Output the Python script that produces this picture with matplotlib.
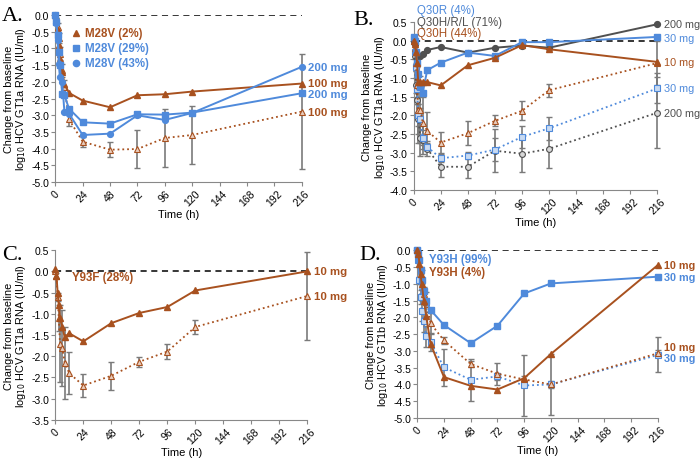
import matplotlib
matplotlib.use("Agg")
import matplotlib.pyplot as plt

plt.rcParams['font.family'] = ['Liberation Sans', 'DejaVu Sans']

BROWN = '#A8511F'
BLUE = '#4F8ADB'
DGREY = '#505050'
EGREY = '#7A7A7A'

# time points (h)
t = [0, 1, 2, 3, 4, 6, 8, 12, 24, 48, 72, 96, 120, 216]

# ---- panel A (GT1a, M28V)
a_m28v_2 = [0, -0.1, -0.45, -0.9, -1.3, -1.7, -2.05, -2.33, -2.56, -2.76, -2.4, -2.37, -2.29, -2.05]
a_m28v_29 = [0, -0.2, -0.6, -1.1, -1.5, -2.35, -2.4, -2.8, -3.21, -3.25, -2.97, -2.98, -2.92, -2.34]
a_m28v_43 = [0, -0.25, -0.75, -1.45, -1.85, -2.0, -2.9, -2.95, -3.59, -3.55, -3.0, -3.14, -2.93, -1.55]
a_100 = [0, -0.1, -0.35, -0.7, -1.15, -1.65, -2.15, -3.12, -3.79, -4.03, -4.01, -3.68, -3.59, -2.89]
a_100_err = [0, 0, 0.1, 0.15, 0.2, 0.2, 0.2, 0.2, 0.15, 0.22, 0.58, 0.86, 0.88, 1.73]

# ---- panel B (GT1a, Q30)
b_q30hrl = [0, -0.1, -0.3, -0.5, -0.45, -0.4, -0.35, -0.25, -0.17, -0.32, -0.19, -0.13, -0.19, 0.44]
b_q30r = [0.1, 0.0, -0.3, -0.6, -0.9, -1.25, -1.39, -0.79, -0.59, -0.32, -0.41, -0.04, -0.04, 0.1]
b_q30h = [0, -0.1, -0.3, -0.6, -1.1, -1.1, -1.1, -1.11, -1.2, -0.66, -0.46, -0.12, -0.23, -0.57]
b_10 = [0, -0.2, -0.6, -1.2, -1.85, -1.85, -2.2, -2.42, -2.73, -2.48, -2.15, -1.88, -1.33, -0.6]
b_10_err = [0, 0.1, 0.2, 0.5, 0.9, 0.9, 0.7, 0.5, 0.28, 0.33, 0.15, 0.25, 0.17, 0.6]
b_30 = [0.05, -0.3, -0.7, -1.3, -2.0, -2.1, -2.6, -2.85, -3.15, -3.08, -2.92, -2.58, -2.35, -1.28]
b_30_err = [0, 0, 0.1, 0.2, 0.3, 0.3, 0.2, 0.1, 0.1, 0.1, 0.3, 0.3, 0.3, 0.4]
b_200 = [0, -0.4, -1.2, -1.6, -2.1, -2.6, -2.65, -2.9, -3.38, -3.38, -2.95, -3.03, -2.9, -1.93]
b_200_err = [0, 0.1, 0.2, 0.3, 0.4, 0.5, 0.4, 0.2, 0.27, 0.3, 0.57, 0.5, 0.5, 0.95]

# ---- panel C (GT1a, Y93F)
c_y93f = [0.05, -0.1, -0.5, -0.8, -1.1, -1.3, -1.55, -1.46, -1.65, -1.22, -0.98, -0.84, -0.45, 0.0]
c_10 = [0, -0.1, -0.6, -1.1, -1.7, -1.8, -2.15, -2.4, -2.69, -2.46, -2.13, -1.89, -1.31, -0.58]
c_10_err = [0, 0.05, 0.1, 0.3, 0.9, 0.9, 0.85, 0.49, 0.27, 0.33, 0.12, 0.17, 0.17, 1.03]

# ---- panel D (GT1b, Y93H)
d_y93h_99 = [0, -0.1, -0.3, -0.6, -0.9, -1.21, -1.52, -1.78, -2.23, -2.77, -2.25, -1.29, -0.99, -0.79]
d_y93h_4 = [0, -0.1, -0.4, -0.7, -1.0, -1.5, -1.95, -2.79, -3.78, -4.04, -4.15, -3.81, -3.09, -0.44]
d_10 = [0, -0.1, -0.3, -0.6, -0.8, -1.3, -1.55, -2.18, -2.69, -3.39, -3.68, -3.85, -4.0, -3.07]
d_10_err = [0, 0, 0.05, 0.1, 0.2, 0.2, 0.3, 0.3, 0.1, 0.1, 0.33, 0.1, 0.1, 0.1]
d_30 = [0, -0.3, -0.9, -1.4, -1.8, -2.1, -2.57, -2.74, -3.49, -3.86, -3.76, -4.03, -4.0, -3.12]
d_30_err = [0, 0, 0.1, 0.2, 0.3, 0.35, 0.3, 0.25, 0.55, 0.63, 0.1, 0.9, 0.9, 0.52]


def solid(ax, y, color, marker):
    ax.plot(t, y, color=color, lw=1.4, marker=marker, ms=4.2, mfc=color, mec=color,
            clip_on=False, zorder=4)


def dotted(ax, y, err, color, marker, face):
    ax.errorbar(t, y, yerr=err, fmt='none', ecolor=EGREY, elinewidth=1.2, capsize=2,
                capthick=1, zorder=2, clip_on=False)
    ax.plot(t, y, color=color, lw=1.3, ls=':', marker=marker, ms=4.2, mfc=face, mec=color,
            mew=0.8, clip_on=False, zorder=3)


def style(ax, ylo, yhi, gt):
    ax.set_xlim(0, 216)
    ax.set_ylim(ylo, yhi)
    ax.set_xticks(range(0, 217, 24))
    n = int(round((yhi - ylo) / 0.5))
    ax.set_yticks([ylo + 0.5 * i for i in range(n + 1)])
    ax.yaxis.set_major_formatter(plt.FuncFormatter(lambda v, p: f'{v:.1f}'))
    for lbl in ax.get_xticklabels():
        lbl.set_rotation(45)
    ax.tick_params(labelsize=7.5, length=3, color='#888888', pad=1.5)
    for s in ('top', 'right'):
        ax.spines[s].set_visible(False)
    for s in ('left', 'bottom'):
        ax.spines[s].set_color('#888888')
    ax.axhline(0, color='black', ls='--', lw=1.1, dashes=(4, 3), zorder=1)
    ax.set_xlabel('Time (h)', fontsize=8, labelpad=1)
    ax.set_ylabel('Change from baseline\nlog$_{10}$ HCV ' + gt + ' RNA (IU/ml)', fontsize=7.8,
                  labelpad=2, linespacing=1.05)


def right_label(ax, y, text, color, bold=True, size=8.2):
    ax.annotate(text, (216, y), xytext=(4.5, 0), textcoords='offset points', va='center',
                ha='left', color=color, fontsize=size, fontweight='bold' if bold else 'normal',
                annotation_clip=False)


fig = plt.figure(figsize=(7, 4.6), dpi=100)

axA = fig.add_axes([0.079, 0.602, 0.352, 0.363])
axB = fig.add_axes([0.591, 0.585, 0.348, 0.365])
axC = fig.add_axes([0.079, 0.085, 0.360, 0.369])
axD = fig.add_axes([0.596, 0.089, 0.344, 0.365])

# A
style(axA, -5.0, 0.0, 'GT1a')
dotted(axA, a_100, a_100_err, BROWN, '^', '#E8CDBE')
solid(axA, a_m28v_2, BROWN, '^')
solid(axA, a_m28v_29, BLUE, 's')
solid(axA, a_m28v_43, BLUE, 'o')
right_label(axA, -1.55, '200 mg', BLUE)
right_label(axA, -2.03, '100 mg', BROWN)
right_label(axA, -2.36, '200 mg', BLUE)
right_label(axA, -2.89, '100 mg', BROWN)
for i, (mk, txt, col) in enumerate([('^', 'M28V (2%)', BROWN), ('s', 'M28V (29%)', BLUE),
                                    ('o', 'M28V (43%)', BLUE)]):
    yy = 0.895 - i * 0.09
    axA.plot([0.085], [yy], marker=mk, color=col, ms=4.5, transform=axA.transAxes)
    axA.text(0.12, yy, txt, color=col, fontsize=8.3, fontweight='bold', va='center',
             transform=axA.transAxes)

# B
style(axB, -4.0, 0.5, 'GT1a')
dotted(axB, b_200, b_200_err, DGREY, 'o', '#D8D8D8')
dotted(axB, b_30, b_30_err, BLUE, 's', '#C8DAF2')
dotted(axB, b_10, b_10_err, BROWN, '^', '#E8CDBE')
solid(axB, b_q30hrl, DGREY, 'o')
solid(axB, b_q30r, BLUE, 's')
solid(axB, b_q30h, BROWN, '^')
right_label(axB, 0.44, '200 mg', DGREY, False, 7.8)
right_label(axB, 0.06, '30 mg', BLUE, False, 7.8)
right_label(axB, -0.57, '10 mg', BROWN, False, 7.8)
right_label(axB, -1.28, '30 mg', BLUE, False, 7.8)
right_label(axB, -1.93, '200 mg', DGREY, False, 7.8)
for i, (txt, col) in enumerate([('Q30R (4%)', BLUE), ('Q30H/R/L (71%)', DGREY),
                                ('Q30H (44%)', BROWN)]):
    axB.text(0.015, 1.07 - i * 0.068, txt, color=col, fontsize=8.3, va='center',
             transform=axB.transAxes)

# C
style(axC, -3.5, 0.5, 'GT1a')
dotted(axC, c_10, c_10_err, BROWN, '^', '#E8CDBE')
solid(axC, c_y93f, BROWN, '^')
right_label(axC, 0.0, '10 mg', BROWN)
right_label(axC, -0.58, '10 mg', BROWN)
axC.text(0.065, 0.84, 'Y93F (28%)', color=BROWN, fontsize=8.3, fontweight='bold', va='center',
         transform=axC.transAxes)

# D
style(axD, -5.0, 0.0, 'GT1b')
dotted(axD, d_30, d_30_err, BLUE, 's', '#C8DAF2')
dotted(axD, d_10, d_10_err, BROWN, '^', '#E8CDBE')
solid(axD, d_y93h_99, BLUE, 's')
solid(axD, d_y93h_4, BROWN, '^')
right_label(axD, -0.44, '10 mg', BROWN, True, 7.8)
right_label(axD, -0.79, '30 mg', BLUE, True, 7.8)
right_label(axD, -2.88, '10 mg', BROWN, True, 7.8)
right_label(axD, -3.2, '30 mg', BLUE, True, 7.8)
axD.text(0.05, 0.95, 'Y93H (99%)', color=BLUE, fontsize=8.3, fontweight='bold', va='center',
         transform=axD.transAxes)
axD.text(0.05, 0.87, 'Y93H (4%)', color=BROWN, fontsize=8.3, fontweight='bold', va='center',
         transform=axD.transAxes)

# panel letters
for x, y, s in [(0.003, 0.965, 'A.'), (0.505, 0.955, 'B.'), (0.003, 0.445, 'C.'), (0.513, 0.445, 'D.')]:
    fig.text(x, y, s, fontsize=16, family='Liberation Serif', va='center')

fig.savefig('out.png', dpi=100)
